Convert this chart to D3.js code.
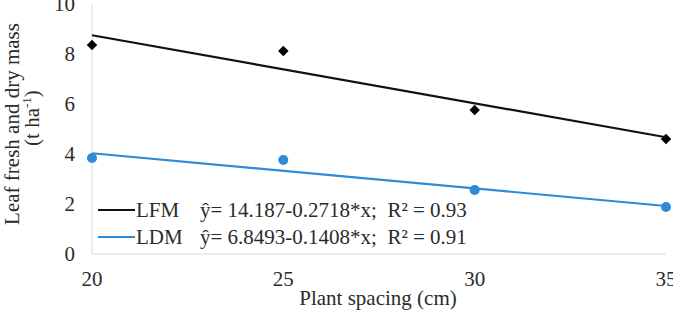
<!DOCTYPE html>
<html>
<head>
<meta charset="utf-8">
<script src="https://cdn.jsdelivr.net/npm/d3@7"></script>
<style>
  body { margin: 0; background: #fff; }
  text { font-family: "Liberation Serif", "Times New Roman", serif; fill: #2b2b2b; white-space: pre; }
</style>
</head>
<body>
<div id="chart"></div>
<script>
// data
var spacing = [20, 25, 30, 35];
var lfm = [8.36, 8.12, 5.76, 4.6];
var ldm = [3.84, 3.76, 2.56, 1.88];
// fitted lines, ends at x = 20 and x = 35
var trendX = [20, 35];
var lfmTrend = [8.75, 4.67];
var ldmTrend = [4.03, 1.92];
var yTicks = [0, 2, 4, 6, 8, 10];
var legendNames = ["LFM", "LDM"];
var legendEq = ["\u0177= 14.187-0.2718*x;  R\u00b2 = 0.93", "\u0177= 6.8493-0.1408*x;  R\u00b2 = 0.91"];

var width = 673, height = 311;
var svg = d3.select("#chart").append("svg")
    .attr("width", width)
    .attr("height", height);

var x = d3.scaleLinear().domain([20, 35]).range([92, 666]);
var y = d3.scaleLinear().domain([0, 10]).range([254, 4]);

//axis lines
svg.append("line")
    .attr("x1", x(20)).attr("x2", x(35))
    .attr("y1", y(0)).attr("y2", y(0))
    .attr("stroke", "#d9d9d9");
svg.append("line")
    .attr("x1", x(20)).attr("x2", x(20))
    .attr("y1", y(0)).attr("y2", y(10))
    .attr("stroke", "#d9d9d9");

//tick labels
svg.selectAll(".ytick").data(yTicks).enter().append("text")
    .attr("x", 75)
    .attr("y", function(d) { return y(d) + 7; })
    .attr("text-anchor", "end")
    .attr("font-size", 21)
    .text(function(d) { return d; });

svg.selectAll(".xtick").data(spacing).enter().append("text")
    .attr("x", function(d) { return x(d); })
    .attr("y", 286)
    .attr("text-anchor", "middle")
    .attr("font-size", 21)
    .text(function(d) { return d; });

//titles
svg.append("text")
    .attr("x", 378).attr("y", 305)
    .attr("text-anchor", "middle")
    .attr("font-size", 21)
    .text("Plant spacing (cm)");

svg.append("text")
    .attr("transform", "translate(19,124) rotate(-90)")
    .attr("text-anchor", "middle")
    .attr("font-size", 21)
    .text("Leaf fresh and dry mass");
var l2 = svg.append("text")
    .attr("transform", "translate(39,118) rotate(-90)")
    .attr("text-anchor", "middle")
    .attr("font-size", 21);
l2.append("tspan").text("(t ha");
l2.append("tspan").attr("font-size", 13).attr("dy", -8).text("-1");
l2.append("tspan").attr("dy", 8).text(")");

//trend lines
var line = d3.line()
    .x(function(d) { return x(d[0]); })
    .y(function(d) { return y(d[1]); });

svg.append("path")
    .datum(d3.zip(trendX, lfmTrend))
    .attr("d", line)
    .attr("fill", "none")
    .attr("stroke", "#111")
    .attr("stroke-width", 2.2);

svg.append("path")
    .datum(d3.zip(trendX, ldmTrend))
    .attr("d", line)
    .attr("fill", "none")
    .attr("stroke", "#2f8ad8")
    .attr("stroke-width", 2.2);

//points
svg.selectAll(".lfm").data(d3.zip(spacing, lfm)).enter().append("path")
    .attr("d", d3.symbol().type(d3.symbolDiamond2).size(70))
    .attr("transform", function(d) { return "translate(" + x(d[0]) + "," + y(d[1]) + ")"; })
    .attr("fill", "#000");

svg.selectAll(".ldm").data(d3.zip(spacing, ldm)).enter().append("circle")
    .attr("cx", function(d) { return x(d[0]); })
    .attr("cy", function(d) { return y(d[1]); })
    .attr("r", 5)
    .attr("fill", "#2f8ad8");

//legend
var legColors = ["#111", "#2f8ad8"];
var leg = svg.selectAll(".leg").data(legendNames).enter().append("g")
    .attr("transform", function(d, i) { return "translate(98," + (210 + i * 27) + ")"; });
leg.append("line")
    .attr("x1", 0).attr("x2", 37)
    .attr("stroke", function(d, i) { return legColors[i]; })
    .attr("stroke-width", 2.2);
leg.append("text")
    .attr("x", 38).attr("y", 7)
    .attr("font-size", 21)
    .text(function(d) { return d; });
leg.append("text")
    .attr("x", 102).attr("y", 7)
    .attr("font-size", 21)
    .text(function(d, i) { return legendEq[i]; });
</script>
</body>
</html>
